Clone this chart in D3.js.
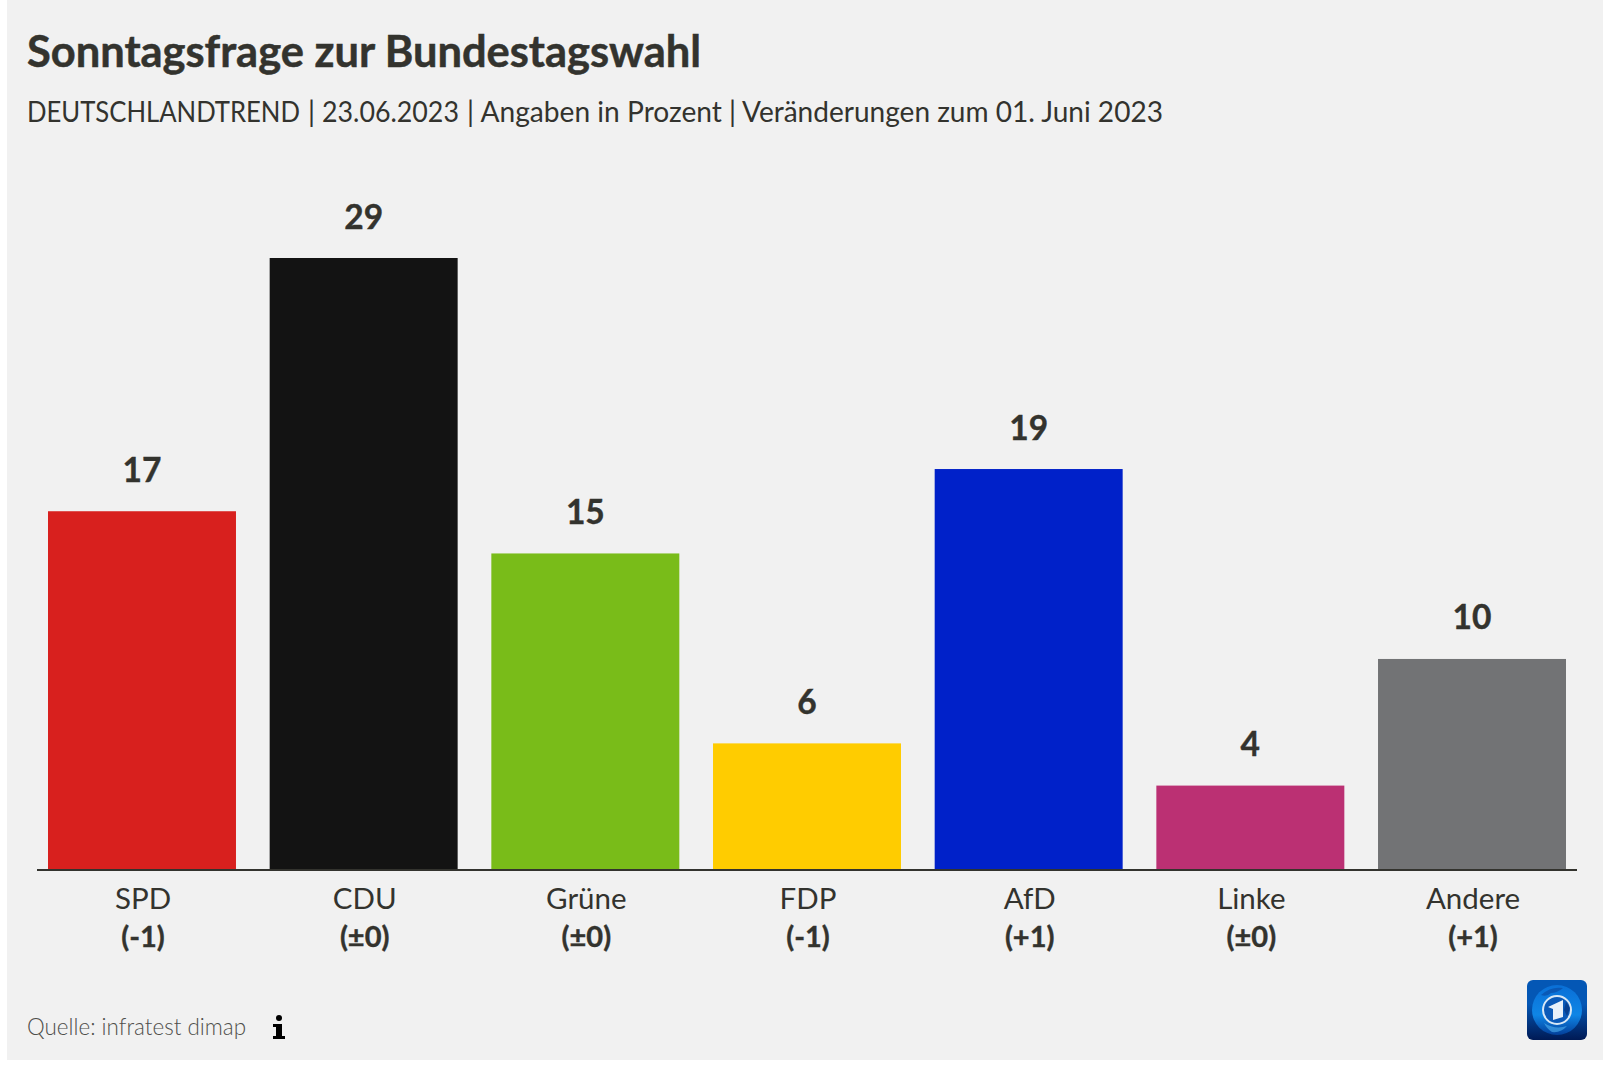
<!DOCTYPE html>
<html lang="de">
<head>
<meta charset="utf-8">
<script src="https://cdn.jsdelivr.net/npm/d3@7/dist/d3.min.js"></script>
<style>
html,body{margin:0;padding:0;background:#fff;}
svg{display:block;}
text{font-family:Lato,"Noto Sans",sans-serif;fill:#33332e;}
</style>
</head>
<body>
<script>
const parties = ["SPD","CDU","Grüne","FDP","AfD","Linke","Andere"];
const values = [17,29,15,6,19,4,10];
const changes = ["(-1)","(±0)","(±0)","(-1)","(+1)","(±0)","(+1)"];
const colors = ["#d8201e","#131313","#79bc19","#ffcc00","#0021c9","#bb3073","#727375"];
const titleText = "Sonntagsfrage zur Bundestagswahl";
const subtitleParts = ["DEUTSCHLANDTREND","|","23.06.2023","|","Angaben in Prozent","|","Veränderungen zum 01. Juni 2023"];
const subtitleStart = [27,308,322,467,480.5,729,742];
const subtitleWidth = [273,0,137,0,241.5,0,421];
const sourceText = "Quelle: infratest dimap";

const W = 1603, H = 1074;
const svg = d3.select("body").append("svg").attr("width",W).attr("height",H);
svg.append("rect").attr("x",7).attr("y",0).attr("width",W-7).attr("height",1060).attr("fill","#f1f1f1");

const x = d3.scaleBand().domain(parties).range([48,1566]).paddingInner(0.152).paddingOuter(0);
const y = d3.scaleLinear().domain([0,29]).range([870,258]);

svg.append("text").attr("x",27).attr("y",67).attr("font-size",44).attr("font-weight",700)
  .attr("textLength",674).attr("lengthAdjust","spacingAndGlyphs")
  .style("stroke","#33332e").style("stroke-width",0.5).text(titleText);

svg.selectAll("text.sub").data(subtitleParts).join("text").attr("class","sub")
  .attr("font-size",28)
  .text(d=>d)
  .attr("transform",function(d,i){
    const natural = this.getComputedTextLength();
    const k = subtitleWidth[i] ? subtitleWidth[i]/natural : 1;
    return `translate(${subtitleStart[i]},121.5) scale(${k},1)`;
  });

svg.selectAll("rect.bar").data(parties).join("rect").attr("class","bar")
  .attr("x",d=>x(d)).attr("width",x.bandwidth())
  .attr("y",(d,i)=>y(values[i])).attr("height",(d,i)=>y(0)-y(values[i]))
  .attr("fill",(d,i)=>colors[i]);

svg.selectAll("text.val").data(parties).join("text").attr("class","val")
  .attr("x",d=>x(d)+x.bandwidth()/2).attr("y",(d,i)=>y(values[i])-29.5)
  .attr("text-anchor","middle").attr("font-size",33.5).attr("font-weight",700)
  .style("stroke","#33332e").style("stroke-width",0.4)
  .text((d,i)=>values[i]);

const axis = d3.axisBottom(x).tickSize(0).tickPadding(0);
const ag = svg.append("g").attr("transform","translate(0,870)").call(axis);
ag.select(".domain").remove();
svg.append("line").attr("x1",37).attr("x2",1577).attr("y1",870).attr("y2",870)
  .attr("stroke","#33332e").attr("stroke-width",2);
ag.selectAll(".tick text").attr("x",1).attr("y",39).attr("dy",0).attr("font-size",29.5)
  .attr("font-family",'Lato,"Noto Sans",sans-serif').attr("fill","#33332e");
ag.selectAll(".tick").append("text").attr("x",1).attr("y",77).attr("text-anchor","middle")
  .attr("font-size",29).attr("font-weight",700).attr("fill","#33332e")
  .attr("font-family",'Lato,"Noto Sans",sans-serif')
  .style("stroke","#33332e").style("stroke-width",0.4)
  .text((d,i)=>changes[i]);

svg.append("text").attr("x",27).attr("y",1035).attr("font-size",23).attr("font-weight",300).style("fill","#4f4f4b")
  .attr("textLength",219).attr("lengthAdjust","spacingAndGlyphs").text(sourceText);

const info = svg.append("g").attr("fill","#000");
info.append("circle").attr("cx",279).attr("cy",1018).attr("r",3);
info.append("path").attr("d","M273 1024h9v12h3v3h-12v-3h3v-9h-3z");

const defs = svg.append("defs");
const g1 = defs.append("linearGradient").attr("id","lg").attr("x1",0).attr("y1",0).attr("x2",0).attr("y2",1);
g1.append("stop").attr("offset","0.4").attr("stop-color","#0457b5");
g1.append("stop").attr("offset","1").attr("stop-color","#001a55");
const g2 = defs.append("linearGradient").attr("id","rg").attr("x1",0).attr("y1",0).attr("x2",0).attr("y2",1);
g2.append("stop").attr("offset","0").attr("stop-color","#0a6fd6");
g2.append("stop").attr("offset","0.6").attr("stop-color","#0f86e6");
g2.append("stop").attr("offset","1").attr("stop-color","#033f9a");
const logo = svg.append("g").attr("transform","translate(1527,980)");
logo.append("rect").attr("width",60).attr("height",60).attr("rx",6).attr("fill","url(#lg)");
logo.append("circle").attr("cx",30).attr("cy",30).attr("r",25).attr("fill","url(#rg)");
logo.append("path").attr("d","M14 15 Q24 6 36 8 Q30 13 24 13 Q20 17 14 15Z").attr("fill","#0a4da6").attr("opacity",0.7);
logo.append("path").attr("d","M17 43 Q28 50 40 46 Q34 53 25 52 Q20 49 17 43Z").attr("fill","#4fb0f0").attr("opacity",0.6);
logo.append("circle").attr("cx",30).attr("cy",30).attr("r",14).attr("fill","#0b5ab8").attr("stroke","#d8e8f6").attr("stroke-width",2);
logo.append("path").attr("d","M39 22 L43 28 L40 36 L37 30Z").attr("fill","#063a86").attr("opacity",0.8);
logo.append("path").attr("d","M21 27 L36 20 L36 37 L26 40 L26 29 Z").attr("fill","#e8f1fa");
</script>
</body>
</html>
